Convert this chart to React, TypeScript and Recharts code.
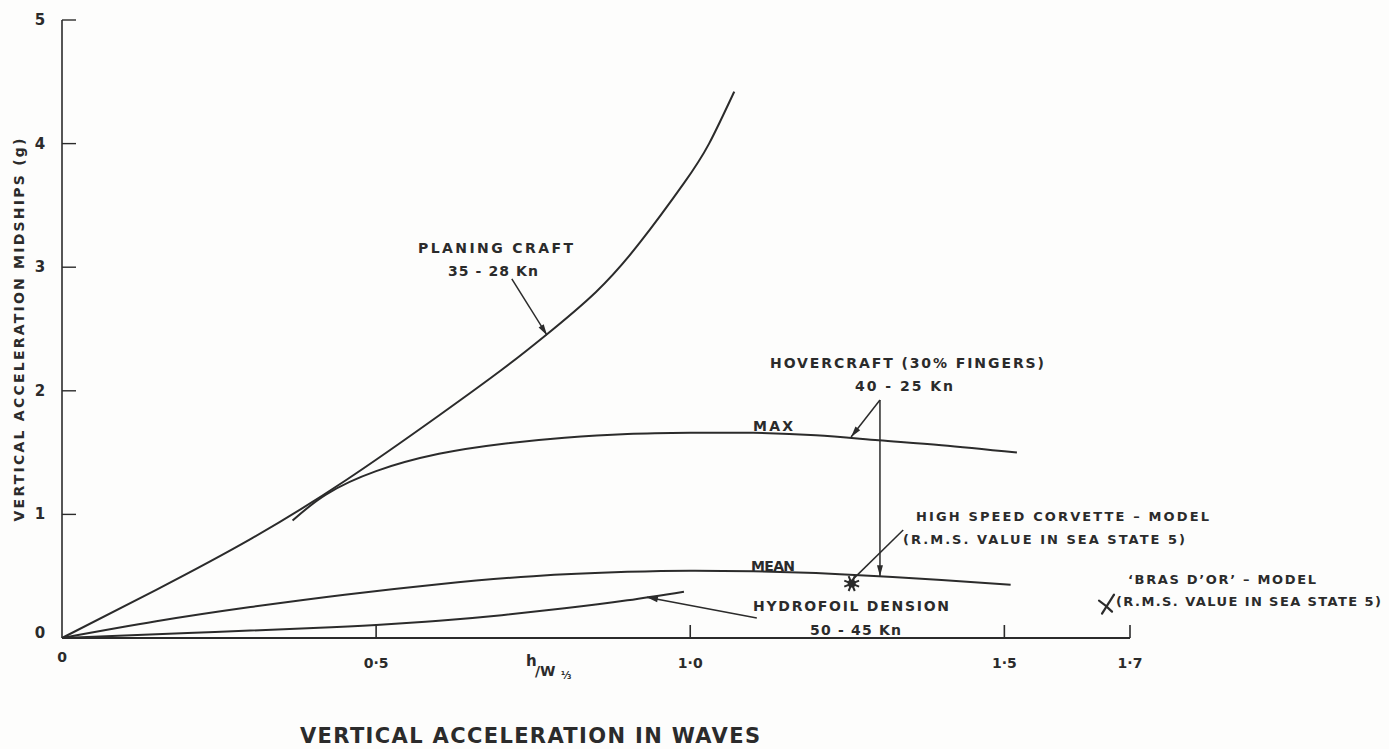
import {
  ComposedChart,
  Line,
  Scatter,
  XAxis,
  YAxis,
  ReferenceLine,
} from 'recharts'

// h / W^(1/3) values and vertical acceleration (g)
const PLANING_X = [0, 0.15, 0.3, 0.45, 0.6, 0.7, 0.77, 0.85, 0.92, 0.99, 1.03, 1.07]
const PLANING_Y = [0, 0.39, 0.8, 1.27, 1.8, 2.17, 2.45, 2.8, 3.2, 3.68, 4.0, 4.42]

const MAX_X = [0.367, 0.42, 0.5, 0.6, 0.7, 0.8, 0.9, 1.0, 1.1, 1.2, 1.3, 1.4, 1.52]
const MAX_Y = [0.95, 1.16, 1.35, 1.49, 1.57, 1.62, 1.65, 1.66, 1.66, 1.64, 1.6, 1.56, 1.5]

const MEAN_X = [0, 0.15, 0.3, 0.45, 0.6, 0.75, 0.9, 1.0, 1.1, 1.2, 1.3, 1.4, 1.51]
const MEAN_Y = [0, 0.135, 0.25, 0.35, 0.435, 0.5, 0.535, 0.545, 0.54, 0.525, 0.5, 0.47, 0.43]

const HYDRO_X = [0, 0.2, 0.4, 0.5, 0.6, 0.7, 0.8, 0.9, 0.99]
const HYDRO_Y = [0, 0.04, 0.08, 0.105, 0.14, 0.185, 0.24, 0.305, 0.375]

const CORVETTE = [{ x: 1.257, y: 0.44 }]
const BRAS_DOR = [{ x: 1.665, y: 0.27 }]

const X_TICKS = [0, 0.5, 1.0, 1.5, 1.7]
const X_TICK_LABELS = ['0', '0·5', '1·0', '1·5', '1·7']
const Y_TICKS = [0, 1, 2, 3, 4, 5]

// leader lines, in data units: [from, to, arrowhead]
const LEADERS: [number, number, number, number, boolean][] = [
  [0.716, 2.905, 0.772, 2.45, true],
  [1.302, 1.925, 1.256, 1.626, true],
  [1.302, 1.925, 1.302, 0.5, true],
  [1.106, 0.162, 0.931, 0.33, true],
  [1.258, 0.47, 1.339, 0.874, false],
]

const zip = (xs: number[], ys: number[]) => xs.map((x, i) => ({ x, y: ys[i] }))

const planing = zip(PLANING_X, PLANING_Y)
const hoverMax = zip(MAX_X, MAX_Y)
const hoverMean = zip(MEAN_X, MEAN_Y)
const hydrofoil = zip(HYDRO_X, HYDRO_Y)

const INK = '#2b2b2b'
const FONT = '"DejaVu Sans", Arial, sans-serif'

function XTick({ x, y, payload }: any) {
  const v = payload.value as number
  const i = X_TICKS.indexOf(v)
  return (
    <g>
      {v > 0 && <line x1={x} y1={y} x2={x} y2={y - 13} stroke={INK} strokeWidth={1.6} />}
      <text
        x={x}
        y={v === 0 ? y + 24 : y + 30}
        textAnchor="middle"
        fontFamily={FONT}
        fontWeight="bold"
        fontSize={14}
        fill={INK}
      >
        {X_TICK_LABELS[i]}
      </text>
    </g>
  )
}

function YTick({ x, y, payload }: any) {
  const v = payload.value as number
  return (
    <g>
      {v > 0 && <line x1={x} y1={y} x2={x + 14} y2={y} stroke={INK} strokeWidth={1.4} />}
      <text
        x={x - 22}
        y={v === 0 ? y : y + 5}
        textAnchor="middle"
        fontFamily={FONT}
        fontWeight="bold"
        fontSize={15}
        fill={INK}
      >
        {v}
      </text>
    </g>
  )
}

function Leader({ x1, y1, x2, y2, head }: any) {
  const a = Math.atan2(y2 - y1, x2 - x1)
  const len = 11
  const w = 3
  const bx = x2 - len * Math.cos(a)
  const by = y2 - len * Math.sin(a)
  const px = -Math.sin(a) * w
  const py = Math.cos(a) * w
  return (
    <g>
      <line x1={x1} y1={y1} x2={x2} y2={y2} stroke={INK} strokeWidth={1.5} />
      {head && (
        <polygon points={`${x2},${y2} ${bx + px},${by + py} ${bx - px},${by - py}`} fill={INK} />
      )}
    </g>
  )
}

function Star({ cx, cy }: any) {
  const rays = Array.from({ length: 8 }, (_, i) => (i * Math.PI) / 4 + Math.PI / 8)
  return (
    <g>
      {rays.map((r, i) => (
        <line
          key={i}
          x1={cx}
          y1={cy}
          x2={cx + 8 * Math.cos(r)}
          y2={cy + 8 * Math.sin(r)}
          stroke={INK}
          strokeWidth={2}
        />
      ))}
      <circle cx={cx} cy={cy} r={4} fill={INK} />
    </g>
  )
}

function Cross({ cx, cy }: any) {
  return (
    <g stroke={INK} strokeWidth={2.2} fill="none" strokeLinecap="round">
      <path d={`M${cx - 6},${cy + 9} L${cx + 6},${cy - 10}`} />
      <path d={`M${cx - 9},${cy - 4} Q${cx - 3},${cy} ${cx + 4},${cy + 7}`} />
    </g>
  )
}

const LABELS = [
  { t: 'PLANING CRAFT', x: 418, y: 253, w: 155, fs: 14 },
  { t: '35 - 28 Kn', x: 448, y: 276, w: 90, fs: 14 },
  { t: 'HOVERCRAFT (30% FINGERS)', x: 770, y: 368, w: 274, fs: 14 },
  { t: '40 - 25 Kn', x: 855, y: 391, w: 98, fs: 14 },
  { t: 'MAX', x: 753, y: 431, w: 40, fs: 14 },
  { t: 'HIGH SPEED CORVETTE – MODEL', x: 916, y: 521, w: 293, fs: 13 },
  { t: '(R.M.S. VALUE IN SEA STATE 5)', x: 903, y: 544, w: 282, fs: 13 },
  { t: 'MEAN', x: 751, y: 571, w: 44, fs: 14 },
  { t: 'HYDROFOIL DENSION', x: 753, y: 611, w: 196, fs: 14 },
  { t: '50 - 45 Kn', x: 810, y: 635, w: 91, fs: 14 },
  { t: '‘BRAS D’OR’ – MODEL', x: 1128, y: 584, w: 188, fs: 13 },
  { t: '(R.M.S. VALUE IN SEA STATE 5)', x: 1116, y: 606, w: 265, fs: 13 },
]

export default function App() {
  return (
    <div style={{ position: 'absolute', left: 0, top: 0, width: 1389, height: 749, background: '#fdfdfc' }}>
      <ComposedChart width={1389} height={749} margin={{ top: 20, right: 259, bottom: 71, left: 22 }}>
        <XAxis
          type="number"
          dataKey="x"
          domain={[0, 1.7]}
          ticks={X_TICKS}
          interval={0}
          height={40}
          tickSize={0}
          tickMargin={0}
          tickLine={false}
          axisLine={{ stroke: INK, strokeWidth: 2 }}
          tick={<XTick />}
        />
        <YAxis
          type="number"
          domain={[0, 5]}
          ticks={Y_TICKS}
          interval={0}
          width={40}
          tickSize={0}
          tickMargin={0}
          tickLine={false}
          axisLine={{ stroke: INK, strokeWidth: 1.6 }}
          tick={<YTick />}
        />
        <Line data={planing} dataKey="y" type="natural" stroke={INK} strokeWidth={2} dot={false} isAnimationActive={false} />
        <Line data={hoverMax} dataKey="y" type="natural" stroke={INK} strokeWidth={2} dot={false} isAnimationActive={false} />
        <Line data={hoverMean} dataKey="y" type="natural" stroke={INK} strokeWidth={2} dot={false} isAnimationActive={false} />
        <Line data={hydrofoil} dataKey="y" type="natural" stroke={INK} strokeWidth={2} dot={false} isAnimationActive={false} />
        {LEADERS.map(([ax, ay, bx, by, head], i) => (
          <ReferenceLine
            key={i}
            segment={[{ x: ax, y: ay }, { x: bx, y: by }]}
            ifOverflow="visible"
            shape={(p: any) => <Leader {...p} head={head} />}
          />
        ))}
        <Scatter data={CORVETTE} dataKey="y" shape={<Star />} isAnimationActive={false} />
        <Scatter data={BRAS_DOR} dataKey="y" shape={<Cross />} isAnimationActive={false} />
      </ComposedChart>
      <svg
        width={1389}
        height={749}
        style={{ position: 'absolute', left: 0, top: 0, pointerEvents: 'none' }}
        fontFamily={FONT}
        fontWeight="bold"
        fill={INK}
      >
        {LABELS.map((l, i) => (
          <text key={i} x={l.x} y={l.y} fontSize={l.fs} textLength={l.w} lengthAdjust="spacing">
            {l.t}
          </text>
        ))}
        <text x={526} y={666} fontSize={15}>
          h
        </text>
        <text x={535} y={676} fontSize={14}>
          /W
        </text>
        <text x={561} y={679} fontSize={10}>
          ⅓
        </text>
        <text x={300} y={743} fontSize={21} textLength={460} lengthAdjust="spacing">
          VERTICAL ACCELERATION IN WAVES
        </text>
        <text
          x={0}
          y={0}
          fontSize={14}
          textLength={383}
          lengthAdjust="spacing"
          textAnchor="middle"
          transform="translate(24 330) rotate(-90)"
        >
          VERTICAL ACCELERATION MIDSHIPS (g)
        </text>
      </svg>
    </div>
  )
}
